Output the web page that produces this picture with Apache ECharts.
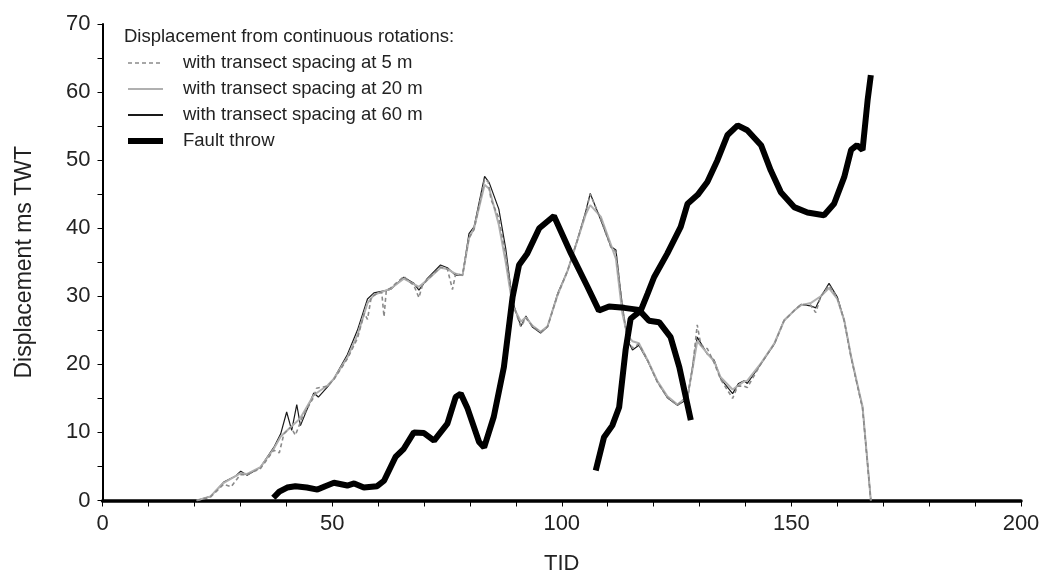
<!DOCTYPE html>
<html>
<head>
<meta charset="utf-8">
<script src="https://cdn.jsdelivr.net/npm/echarts@6/dist/echarts.min.js"></script>
<style>
html,body{margin:0;padding:0;background:#fff;}
#chart{width:1044px;height:574px;}
</style>
</head>
<body>
<div id="chart"></div>
<script>
// ---- Data (TID, displacement ms TWT) ----
const xTicksMajor = [0, 50, 100, 150, 200];
const yTicksMajor = [0, 10, 20, 30, 40, 50, 60, 70];

const spacing5m = [
  [20.5,0],[23.5,0.5],[26.4,2.4],[28,2.0],[30,3.8],[31.5,3.8],[34.4,4.7],[37.3,7.4],[38.5,7.0],[39.5,9.8],
  [41,10.8],[42,9.6],[43.5,12.2],[46,15.2],[46.6,16.5],[49,16.8],[50.4,17.8],[53.3,20.8],[55.5,23.8],
  [57,27.5],[57.7,26.6],[58.5,29.8],[59.5,30.3],[60.8,30.6],[61.3,27.0],[61.8,30.9],[62.7,31.2],[65.6,32.9],
  [67.8,31.6],[68.9,29.8],[69.6,31.5],[70.7,32.4],[73.6,34.3],[75.1,34.0],[76.2,31.0],[76.9,33.3],[78.4,33.1],
  [79.8,38.6],[80.9,39.8],[83.2,47.2],[84.0,46.8],[84.6,44.2],[86.3,41.5],[87.8,36],[89.3,29],[91.1,25.5],
  [92.2,26.8],[93.6,25.6],[95.4,24.7],[96.9,25.5],[99.1,30.2],[101.3,33.8],[103.4,38.2],[105.2,42.3],
  [106.2,45.0],[108.5,41.3],[110.7,37.2],[111.8,36.5],[113.2,28.5],[114.3,23.8],[115.4,22.4],[116.8,23.0],
  [118.7,20.6],[120.8,17.4],[123,15.1],[125.2,14.0],[127.4,15.4],[128.5,19.6],[129.5,25.8],[130.3,22.8],
  [131.7,22.3],[133.2,20.2],[134.6,17.8],[137.2,15.0],[138.3,16.8],[139.7,16.8],[140.4,16.6],[143.4,20.1],
  [146.3,23],[148.4,26.4],[150.6,27.9],[152.1,28.8],[154.2,28.7],[155.3,27.6],[156.4,30.0],[158.2,31.6],
  [160,29.8],[161.5,26.4],[163,21.0],[164.8,15.6],[165.5,13.5],[167.3,0]
];

const spacing20m = [
  [20.5,0],[23.5,0.6],[26.4,2.6],[30,4.0],[31.5,3.9],[34.4,4.9],[37.3,7.6],[38.8,9.4],[41,10.8],[43,12.0],
  [46,15.5],[49,16.9],[50.4,17.9],[53.3,21.0],[55.5,24.3],[57.7,29.0],[59.1,30.2],[62.7,31.1],[65.6,32.6],
  [67.8,31.8],[68.9,31.4],[70.7,32.4],[73.6,34.2],[75.1,34.0],[76.9,33.3],[78.4,33.1],[79.8,38.5],[80.9,40.0],
  [83.2,46.4],[84.2,45.8],[86.3,40.5],[87.8,35.0],[89.3,28.6],[91.1,26.3],[92.2,26.9],[93.6,25.7],[95.4,24.8],
  [96.9,25.6],[99.1,30.2],[101.3,33.8],[103.4,38.2],[105.2,42.0],[106.2,43.4],[108.5,41.7],[110.7,37.6],
  [111.8,35.5],[113.2,27.5],[114.3,24.2],[115.4,23.4],[116.8,23.1],[118.7,20.6],[120.8,17.6],[123,15.3],
  [125.2,14.1],[127.4,15.3],[128.5,19.4],[129.5,23.4],[131.7,21.6],[133.2,20.4],[134.6,18.1],[137.2,16.3],
  [139.7,17.5],[140.4,17.6],[143.4,20.2],[146.3,23.1],[148.4,26.4],[150.6,27.9],[152.1,28.7],[154.2,29.0],
  [156.4,30.0],[158.2,31.2],[160,29.6],[161.5,26.5],[163,21.2],[164.8,15.8],[165.5,13.8],[167.3,0]
];

const spacing60m = [
  [20.5,0],[23.5,0.6],[26.4,2.7],[29,3.6],[30.1,4.3],[31.5,3.7],[34.4,4.9],[37.3,7.8],[38.8,9.8],
  [40.1,13.0],[41.2,10.3],[42.3,14.1],[43.1,11.0],[46,15.8],[47,15.2],[49,16.7],[50.4,17.9],[53.3,21.4],
  [55.5,25.0],[57.7,29.6],[59.1,30.5],[62.7,31.0],[65.6,32.8],[67.8,31.9],[68.9,30.9],[70.7,32.6],[73.6,34.6],
  [75.1,34.2],[76.9,33.1],[78.4,33.1],[79.8,39.2],[80.9,40.2],[83.2,47.6],[84.2,46.7],[86.3,42.8],[87.8,37.0],
  [89.3,29.2],[91.1,25.6],[92.2,27.1],[93.6,25.5],[95.4,24.6],[96.9,25.5],[99.1,30.4],[101.3,33.8],[103.4,38.3],
  [105.2,42.4],[106.2,45.1],[108.5,41.2],[110.7,37.3],[111.8,36.8],[113.2,28.4],[114.3,23.6],[115.4,22.1],
  [116.8,22.8],[118.7,20.5],[120.8,17.5],[123,15.1],[125.2,14.0],[127.4,14.9],[128.5,19.8],[129.5,24.0],
  [131.7,21.5],[133.2,20.6],[134.6,17.9],[137.2,15.7],[138.5,17.2],[139.7,17.6],[140.4,17.2],[143.4,20.1],
  [146.3,23.0],[148.4,26.5],[150.6,27.9],[152.1,28.8],[154.2,28.6],[155.3,28.3],[156.4,29.9],[158.2,31.9],
  [160,29.9],[161.5,26.5],[163,21.1],[164.8,15.7],[165.5,13.7],[167.3,0]
];

const faultThrowA = [
  [37.2,0.4],[38.5,1.3],[40.2,1.9],[42.0,2.1],[44.5,1.9],[46.8,1.6],[48.5,2.1],[50.4,2.6],[53.3,2.2],
  [54.8,2.5],[56.9,1.9],[59.8,2.1],[61.3,2.9],[63.8,6.4],[65.6,7.6],[67.8,10.0],[70.0,9.9],[72.2,8.8],
  [75.1,11.3],[76.9,15.2],[78.0,15.7],[79.5,13.5],[82.0,8.6],[83.1,7.8],[85.2,12.3],[87.4,19.6],
  [89.3,29.9],[90.7,34.6],[92.5,36.3],[95.1,40.0],[98.3,41.8],[102.0,36.3],[105.6,31.4],[108.1,27.9],
  [110.3,28.5],[113.6,28.3],[116.8,28.0],[119.0,26.4],[121.2,26.2],[123.7,24.0],[125.6,19.6],[128.1,11.8]
];

const faultThrowB = [
  [107.4,4.4],[109.2,9.3],[111.0,11.0],[112.5,13.7],[113.9,22.1],[115.0,26.7],[117.2,27.9],[118.7,30.4],
  [120.1,32.8],[123.0,36.3],[125.9,40.2],[127.4,43.6],[129.6,44.9],[131.7,46.8],[133.9,50.0],[136.1,53.7],
  [138.3,55.1],[140.4,54.4],[143.4,52.2],[145.5,48.5],[147.7,45.3],[150.6,43.1],[153.5,42.3],[157.1,41.9],
  [159.3,43.6],[161.5,47.5],[163.0,51.5],[164.3,52.2],[165.5,51.5],[166.6,58.8],[167.3,62.5]
];

const seriesNames = [
  'with transect spacing at 5 m',
  'with transect spacing at 20 m',
  'with transect spacing at 60 m',
  'Fault throw'
];

const FONT = '"Liberation Sans", Arial, Helvetica, sans-serif';
const chart = echarts.init(document.getElementById('chart'), null, {renderer: 'canvas'});

function lineSeries(name, data, style, z) {
  return {
    name: name, type: 'line', data: data, showSymbol: false, symbol: 'none',
    smooth: false, lineStyle: style, itemStyle: {color: style.color}, z: z,
    animation: false, emphasis: {disabled: true}
  };
}

chart.setOption({
  animation: false,
  backgroundColor: '#fff',
  title: {
    text: 'Displacement from continuous rotations:',
    left: 124, top: 27, padding: 0,
    textStyle: {fontFamily: FONT, fontSize: 18.5, lineHeight: 20, fontWeight: 'normal', color: '#222'}
  },
  legend: {
    data: [
      {name: seriesNames[0]},
      {name: seriesNames[1]},
      {name: seriesNames[2], lineStyle: {width: 1.8}},
      {name: seriesNames[3]}
    ],
    orient: 'vertical',
    left: 125, top: 53, padding: 0,
    itemWidth: 35, itemHeight: 14, itemGap: 6,
    selectedMode: false,
    itemStyle: {opacity: 0},
    lineStyle: {width: 'inherit'},
    textStyle: {fontFamily: FONT, fontSize: 18.5, lineHeight: 20, color: '#222', padding: [0, 0, 0, 15]}
  },
  grid: {left: 102.5, right: 23, top: 24, bottom: 73.5, containLabel: false, outerBoundsMode: 'none'},
  xAxis: {
    type: 'value', min: 0, max: 200, interval: 10,
    name: 'TID', nameLocation: 'middle', nameGap: 52,
    nameTextStyle: {fontFamily: FONT, fontSize: 22, color: '#222'},
    axisLine: {show: true, onZero: false, lineStyle: {color: '#000', width: 3.5}},
    axisTick: {show: true, length: 6, lineStyle: {color: '#000', width: 1}},
    axisLabel: {
      margin: 12, fontFamily: FONT, fontSize: 22, color: '#222',
      formatter: v => xTicksMajor.includes(v) ? String(v) : ''
    },
    splitLine: {show: false}
  },
  yAxis: {
    type: 'value', min: 0, max: 70, interval: 5,
    name: 'Displacement ms TWT', nameLocation: 'middle', nameGap: 66,
    nameTextStyle: {fontFamily: FONT, fontSize: 23, color: '#222'},
    axisLine: {show: true, onZero: false, lineStyle: {color: '#000', width: 2}},
    axisTick: {show: true, length: 5, lineStyle: {color: '#000', width: 1}},
    axisLabel: {
      margin: 12, fontFamily: FONT, fontSize: 22, color: '#222',
      formatter: v => yTicksMajor.includes(v) ? String(v) : ''
    },
    splitLine: {show: false}
  },
  series: [
    lineSeries(seriesNames[0], spacing5m, {color: '#8a8a8a', width: 1.6, type: [4, 3]}, 4),
    lineSeries(seriesNames[1], spacing20m, {color: '#b0b0b0', width: 2}, 3),
    lineSeries(seriesNames[2], spacing60m, {color: '#1a1a1a', width: 1.2}, 2),
    lineSeries(seriesNames[3], faultThrowA, {color: '#000', width: 6}, 5),
    lineSeries(seriesNames[3], faultThrowB, {color: '#000', width: 6}, 5)
  ]
});
</script>
</body>
</html>
